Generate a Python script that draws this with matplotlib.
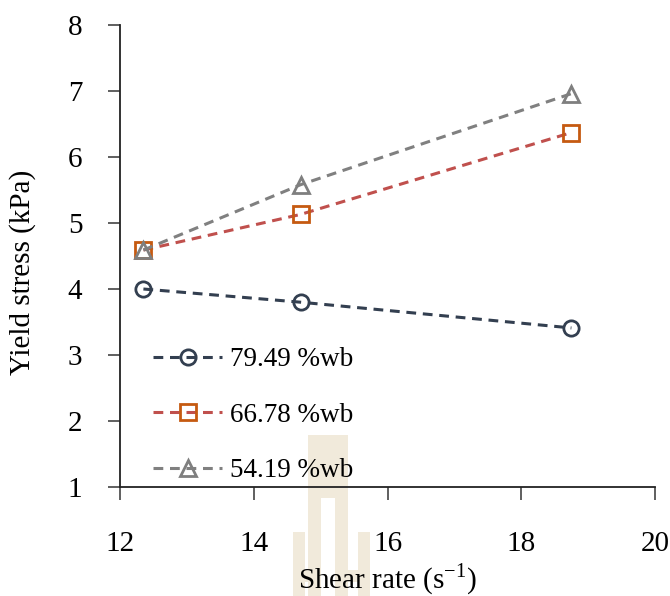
import matplotlib
matplotlib.use("Agg")
import matplotlib.pyplot as plt
from matplotlib.patches import Rectangle

# shear rate (1/s) and yield stress (kPa) for each moisture content
shear_rate = [12.35, 14.7, 18.75]
stress_7949 = [4.00, 3.80, 3.41]
stress_6678 = [4.59, 5.13, 6.37]
stress_5419 = [4.59, 5.58, 6.96]
labels = ["79.49 %wb", "66.78 %wb", "54.19 %wb"]

plt.rcParams["font.family"] = ["Liberation Serif", "DejaVu Serif"]
plt.rcParams["mathtext.fontset"] = "custom"
plt.rcParams["mathtext.rm"] = "Liberation Serif"

W, H = 670, 596
fig = plt.figure(figsize=(W / 100, H / 100), dpi=100)

# faint university logo watermark behind the plot (pixel boxes: x0, x1, y0, y1)
logo = [(308, 348, 435, 498), (308, 321, 497, 596), (335, 348, 497, 596),
        (293, 305, 532, 596), (358, 370, 532, 596),
        (304, 309, 570, 582), (347, 359, 570, 582)]
for x0, x1, y0, y1 in logo:
    fig.patches.append(Rectangle((x0 / W, 1 - y1 / H), (x1 - x0) / W, (y1 - y0) / H,
                                 transform=fig.transFigure, color="#F1EADB",
                                 lw=0, zorder=-1))

ax = fig.add_axes([120 / W, 1 - 487 / H, 535 / W, 462 / H])
ax.set_facecolor("none")

dash = (0, (3.2, 2.2))
ax.plot(shear_rate, stress_7949, linestyle=dash, color="#333F50", lw=2.2,
        marker="o", ms=11, mfc="none", mec="#333F50", mew=2, label=labels[0])
ax.plot(shear_rate, stress_6678, linestyle=dash, color="#C0504D", lw=2.2,
        marker="s", ms=11, mfc="none", mec="#C55A11", mew=2, label=labels[1])
ax.plot(shear_rate, stress_5419, linestyle=dash, color="#808080", lw=2.2,
        marker="^", ms=11, mfc="none", mec="#7F7F7F", mew=2, label=labels[2])

ax.set_xlim(12, 20)
ax.set_ylim(1, 8)
ax.set_xticks([12, 14, 16, 18, 20])
ax.set_yticks(range(1, 9))
ax.spines["top"].set_visible(False)
ax.spines["right"].set_visible(False)
for s in ("left", "bottom"):
    ax.spines[s].set_linewidth(1.3)
    ax.spines[s].set_color("#222222")
ax.tick_params(axis="x", direction="out", length=9, width=1.2, color="#444444",
               labelsize=21, pad=23)
ax.tick_params(axis="y", direction="out", length=9, width=1.2, color="#444444",
               labelsize=21, pad=18)

ax.set_xlabel("Shear rate (s$^{\\mathregular{-1}}$)", fontsize=21, labelpad=3)
ax.set_ylabel("Yield stress (kPa)", fontsize=21)
ax.yaxis.set_label_coords(-0.157, 0.465)

ax.legend(loc="lower left", bbox_to_anchor=(0.062, 0.008), frameon=False,
          fontsize=19.5, handlelength=2.55, labelspacing=1.13, handletextpad=0.3,
          borderpad=0, borderaxespad=0)

fig.savefig("out.png", dpi=100)
